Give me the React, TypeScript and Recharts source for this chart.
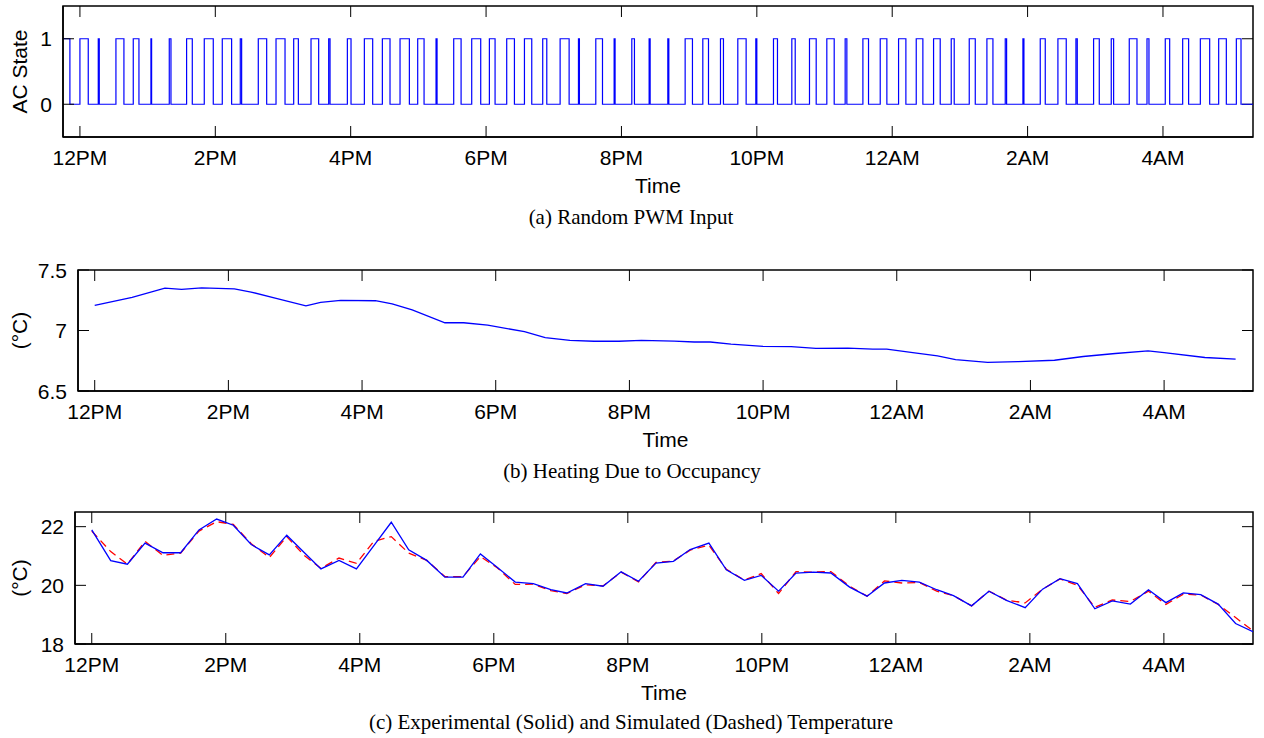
import { Label, Line, LineChart, ReferenceArea, ReferenceLine, XAxis, YAxis } from 'recharts';

// x axis in hours after 12PM
const hourTicks = [0, 2, 4, 6, 8, 10, 12, 14, 16];
const hourLabels = ['12PM', '2PM', '4PM', '6PM', '8PM', '10PM', '12AM', '2AM', '4AM'];
const timeDomain: [number, number] = [-0.25, 17.33];

// (a) PWM pulses: rising / falling edge times (hours)
const pwmRise = [
  -0.25, 0.0, 0.271, 0.532, 0.788, 1.049, 1.32, 1.576, 1.837, 2.103, 2.369, 2.635, 2.897, 3.158, 3.414,
  3.675, 3.951, 4.202, 4.468, 4.729, 4.99, 5.261, 5.522, 5.788, 6.049, 6.305, 6.567, 6.837, 7.094, 7.365,
  7.621, 7.892, 8.153, 8.409, 8.685, 8.941, 9.202, 9.463, 9.719, 9.985, 10.246, 10.517, 10.778, 11.034,
  11.305, 11.567, 11.823, 12.094, 12.355, 12.611, 12.872, 13.138, 13.399, 13.67, 13.931, 14.187, 14.448,
  14.714, 14.975, 15.236, 15.502, 15.764, 16.034, 16.291, 16.552, 16.823, 17.084,
];
const pwmFall = [
  -0.148, 0.123, 0.286, 0.65, 0.872, 1.059, 1.345, 1.66, 1.97, 2.241, 2.389, 2.759, 3.03, 3.227, 3.527,
  3.695, 4.005, 4.325, 4.581, 4.867, 5.084, 5.276, 5.631, 5.921, 6.133, 6.419, 6.675, 6.897, 7.227, 7.379,
  7.72, 7.906, 8.192, 8.424, 8.7, 9.049, 9.286, 9.507, 9.842, 10.0, 10.305, 10.567, 10.877, 11.143,
  11.33, 11.65, 11.921, 12.202, 12.453, 12.709, 12.916, 13.227, 13.488, 13.69, 13.946, 14.261, 14.571,
  14.734, 15.059, 15.271, 15.616, 15.793, 16.099, 16.379, 16.69, 16.936, 17.153,
];

// (b) heating due to occupancy
const occTimes = [
  0.0, 0.56, 1.05, 1.3, 1.6, 2.09, 2.34, 2.7, 3.16, 3.38, 3.68, 4.2, 4.45, 4.75, 5.24, 5.52, 5.88, 6.43,
  6.74, 7.11, 7.47, 7.84, 8.18, 8.67, 8.97, 9.21, 9.52, 10.0, 10.42, 10.79, 11.27, 11.64, 11.85, 12.24,
  12.61, 12.88, 13.36, 13.82, 14.36, 14.79, 15.27, 15.76, 16.0, 16.61, 17.07,
];
const occHeat = [
  7.207, 7.274, 7.35, 7.34, 7.352, 7.344, 7.318, 7.268, 7.204, 7.232, 7.249, 7.246, 7.22, 7.17, 7.064,
  7.064, 7.045, 6.99, 6.941, 6.919, 6.911, 6.911, 6.919, 6.913, 6.905, 6.905, 6.888, 6.869, 6.866, 6.852,
  6.855, 6.846, 6.846, 6.818, 6.79, 6.76, 6.737, 6.743, 6.754, 6.785, 6.81, 6.832, 6.818, 6.777, 6.763,
];

// (c) experimental vs simulated temperature
const tempTimes = [
  0, 0.283, 0.532, 0.795, 1.064, 1.327, 1.6, 1.864, 2.112, 2.38, 2.65, 2.91, 3.17, 3.42, 3.69, 3.95, 4.21,
  4.47, 4.73, 5.0, 5.27, 5.54, 5.8, 6.05, 6.32, 6.59, 6.85, 7.09, 7.37, 7.63, 7.9, 8.16, 8.42, 8.68, 8.93,
  9.21, 9.47, 9.74, 9.99, 10.25, 10.51, 10.77, 11.03, 11.31, 11.57, 11.83, 12.09, 12.35, 12.61, 12.86,
  13.13, 13.39, 13.65, 13.93, 14.19, 14.45, 14.71, 14.97, 15.23, 15.5, 15.77, 16.03, 16.29, 16.55, 16.81,
  17.07, 17.33,
];
const tempMeasured = [
  21.89, 20.84, 20.72, 21.44, 21.11, 21.11, 21.89, 22.26, 22.05, 21.39, 21.04, 21.71, 21.12, 20.56, 20.85,
  20.56, 21.35, 22.15, 21.21, 20.85, 20.28, 20.28, 21.07, 20.62, 20.11, 20.06, 19.85, 19.74, 20.06, 19.97,
  20.46, 20.14, 20.76, 20.82, 21.22, 21.44, 20.53, 20.17, 20.34, 19.8, 20.42, 20.45, 20.42, 19.94, 19.63,
  20.08, 20.17, 20.11, 19.85, 19.65, 19.3, 19.8, 19.49, 19.24, 19.87, 20.23, 20.06, 19.2, 19.47, 19.36,
  19.85, 19.41, 19.74, 19.68, 19.36, 18.7, 18.42,
];
const tempSimulated = [
  21.85, 21.15, 20.72, 21.5, 21.02, 21.1, 21.85, 22.17, 22.08, 21.42, 20.95, 21.66, 21.02, 20.58, 20.93,
  20.75, 21.5, 21.66, 21.1, 20.85, 20.3, 20.3, 20.98, 20.6, 20.03, 20.04, 19.82, 19.72, 20.02, 19.98,
  20.45, 20.12, 20.78, 20.83, 21.2, 21.37, 20.55, 20.18, 20.4, 19.72, 20.47, 20.45, 20.47, 19.97, 19.63,
  20.15, 20.08, 20.1, 19.8, 19.65, 19.3, 19.8, 19.5, 19.4, 19.87, 20.22, 20.0, 19.25, 19.5, 19.45,
  19.8, 19.35, 19.7, 19.67, 19.35, 18.9, 18.45,
];

const pwmData: { t: number; v: number }[] = [];
pwmRise.forEach((r, i) => {
  pwmData.push({ t: r, v: 1 });
  pwmData.push({ t: pwmFall[i], v: 0 });
});
pwmData.push({ t: timeDomain[1], v: 0 });

const occData = occTimes.map((t, i) => ({ t, v: occHeat[i] }));
const tempData = tempTimes.map((t, i) => ({ t, meas: tempMeasured[i], sim: tempSimulated[i] }));

const SANS = '"Liberation Sans", Arial, Helvetica, sans-serif';
const SERIF = '"Liberation Serif", "Times New Roman", serif';
const TICK = 11;
const FS = 21;
const CAP_FS = 21;
const CHART_W = 1264;
const RIGHT = 11;
const FRAME = { stroke: '#000', strokeWidth: 1.5 };
const TICK_STYLE = { stroke: '#000', strokeWidth: 1 };

function BottomTick(props: any) {
  const { x, y, index } = props;
  return (
    <g>
      <line x1={x} y1={y} x2={x} y2={y - TICK} {...TICK_STYLE} />
      <text x={x} y={y + 28} textAnchor="middle" fontSize={FS} fontFamily={SANS} fill="#000">
        {hourLabels[index]}
      </text>
    </g>
  );
}

function LeftTick(props: any) {
  const { x, y, payload } = props;
  return (
    <g>
      <line x1={x} y1={y} x2={x + TICK} y2={y} {...TICK_STYLE} />
      <text x={x - 11} y={y + 7.5} textAnchor="end" fontSize={FS} fontFamily={SANS} fill="#000">
        {String(payload.value)}
      </text>
    </g>
  );
}

function Panel({
  top, left, plotTop, plotHeight, yDomain, yTicks, data, children,
}: {
  top: number; left: number; plotTop: number; plotHeight: number;
  yDomain: [number, number]; yTicks: number[]; data: any[]; children: any;
}) {
  const [y0, y1] = yDomain;
  const [x0, x1] = timeDomain;
  const plotWidth = CHART_W - RIGHT - left;
  // inward tick length expressed in data units for the mirrored top / right ticks
  const dy = (TICK / plotHeight) * (y1 - y0);
  const dx = (TICK / plotWidth) * (x1 - x0);
  return (
    <div style={{ position: 'absolute', top, left: 0 }}>
      <LineChart width={CHART_W} height={plotTop + plotHeight + 63} data={data}
        margin={{ top: plotTop, right: RIGHT, bottom: 0, left: 0 }}>
        <XAxis dataKey="t" type="number" domain={timeDomain} allowDataOverflow ticks={hourTicks}
          interval={0} height={63} tickSize={0} tickMargin={0} tickLine={false} axisLine={FRAME}
          tick={(p: any) => <BottomTick {...p} />}>
          <Label value="Time" position="insideBottom" offset={7} fontSize={FS} fontFamily={SANS} fill="#000" />
        </XAxis>
        <YAxis type="number" domain={yDomain} allowDataOverflow ticks={yTicks} interval={0}
          width={left} tickSize={0} tickMargin={0} tickLine={false} axisLine={FRAME}
          tick={(p: any) => <LeftTick {...p} />} />
        <ReferenceArea x1={x0} x2={x1} y1={y0} y2={y1} fill="none" fillOpacity={0} stroke="#000"
          strokeWidth={1.5} ifOverflow="extendDomain" />
        {hourTicks.map((h) => (
          <ReferenceLine key={`t${h}`} segment={[{ x: h, y: y1 }, { x: h, y: y1 - dy }]} {...TICK_STYLE} />
        ))}
        {yTicks.map((v) => (
          <ReferenceLine key={`r${v}`} segment={[{ x: x1, y: v }, { x: x1 - dx, y: v }]} {...TICK_STYLE} />
        ))}
        {children}
      </LineChart>
    </div>
  );
}

export default function App() {
  return (
    <div style={{ position: 'absolute', left: 0, top: 0, width: 1264, height: 738, background: '#fff' }}>
      <svg width={1264} height={738} style={{ position: 'absolute', left: 0, top: 0 }}>
        <text x={27} y={71.5} transform="rotate(-90 27 71.5)" textAnchor="middle" fontSize={FS} fontFamily={SANS}>AC State</text>
        <text x={27} y={330.5} transform="rotate(-90 27 330.5)" textAnchor="middle" fontSize={FS} fontFamily={SANS}>(°C)</text>
        <text x={27} y={578} transform="rotate(-90 27 578)" textAnchor="middle" fontSize={FS} fontFamily={SANS}>(°C)</text>
        <text x={631} y={224} textAnchor="middle" fontSize={CAP_FS} fontFamily={SERIF}>(a) Random PWM Input</text>
        <text x={632} y={478} textAnchor="middle" fontSize={CAP_FS} fontFamily={SERIF}>(b) Heating Due to Occupancy</text>
        <text x={631} y={729} textAnchor="middle" fontSize={CAP_FS} fontFamily={SERIF}>
          (c) Experimental (Solid) and Simulated (Dashed) Temperature
        </text>
      </svg>

      <Panel top={0} left={63} plotTop={6} plotHeight={131} yDomain={[-0.5, 1.5]} yTicks={[0, 1]} data={pwmData}>
        <Line dataKey="v" type="stepAfter" stroke="#0000ff" strokeWidth={1.2}
          dot={false} isAnimationActive={false} />
      </Panel>

      <Panel top={250} left={78} plotTop={20} plotHeight={121} yDomain={[6.5, 7.5]} yTicks={[6.5, 7, 7.5]} data={occData}>
        <Line dataKey="v" type="linear" stroke="#0000ff" strokeWidth={1.3}
          dot={false} isAnimationActive={false} />
      </Panel>

      <Panel top={500} left={75} plotTop={12} plotHeight={132} yDomain={[18, 22.5]} yTicks={[18, 20, 22]} data={tempData}>
        <Line dataKey="sim" type="linear" stroke="#ff0000" strokeWidth={1.3}
          strokeDasharray="8 5" dot={false} isAnimationActive={false} />
        <Line dataKey="meas" type="linear" stroke="#0000ff" strokeWidth={1.3}
          dot={false} isAnimationActive={false} />
      </Panel>
    </div>
  );
}
